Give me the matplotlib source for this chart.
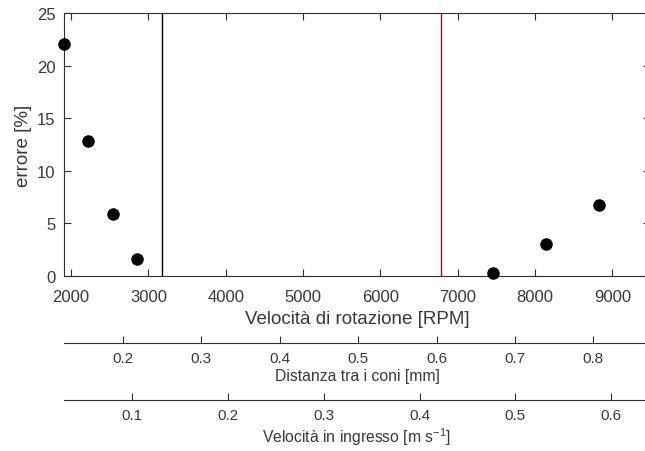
import matplotlib
matplotlib.use("Agg")
import matplotlib.pyplot as plt

# Measured error against rotation speed
rpm = [1910, 2224, 2543, 2854, 7460, 8144, 8827]
errore = [22.1, 12.8, 5.9, 1.6, 0.3, 3.0, 6.75]

# Vertical reference lines
rpm_line_black = 3177
rpm_line_red = 6783

# Axis ranges and ticks
rpm_lim = (1909.5, 9487)
rpm_ticks = [2000, 3000, 4000, 5000, 6000, 7000, 8000, 9000]
err_lim = (0, 25)
err_ticks = [0, 5, 10, 15, 20, 25]
dist_lim = (0.1247, 0.8724)
dist_ticks = [0.2, 0.3, 0.4, 0.5, 0.6, 0.7, 0.8]
vin_lim = (0.02866, 0.6407)
vin_ticks = [0.1, 0.2, 0.3, 0.4, 0.5, 0.6]

plt.rcParams['font.family'] = ['Liberation Sans', 'DejaVu Sans']
plt.rcParams['mathtext.fontset'] = 'custom'
plt.rcParams['mathtext.rm'] = 'Liberation Sans'
plt.rcParams['mathtext.it'] = 'Liberation Sans'
plt.rcParams['mathtext.default'] = 'regular'
TXT = '#383838'
AX = '#303030'

W, H = 645, 452
fig = plt.figure(figsize=(W / 100, H / 100), dpi=100)

left_px, right_px = 64, 650
ax = fig.add_axes([left_px / W, 1 - 277 / H, (right_px - left_px) / W, (277 - 14) / H])
ax.plot(rpm, errore, 'o', color='black', markersize=8, clip_on=False, zorder=5)
ax.axvline(rpm_line_black, color='black', lw=1.0)
ax.axvline(rpm_line_red, color='#8B1E1E', lw=1.0)
ax.set_xlim(*rpm_lim)
ax.set_ylim(*err_lim)
ax.set_xticks(rpm_ticks)
ax.set_yticks(err_ticks)
ax.tick_params(direction='in', length=5, width=0.8, colors=AX, labelcolor=TXT,
               labelsize=12, top=True, right=True)
ax.tick_params(axis='x', pad=9.5)
ax.tick_params(axis='y', pad=6)
for s in ax.spines.values():
    s.set_color(AX)
    s.set_linewidth(0.8)
ax.set_xlabel('Velocità di rotazione [RPM]', fontsize=13.5, color=TXT, labelpad=4)
ax.set_ylabel('errore [%]', fontsize=13.5, color=TXT, labelpad=3.5)


def extra_axis(y_px, lim, ticks, label):
    a = fig.add_axes([left_px / W, 1 - y_px / H, (right_px - left_px) / W, 1e-4])
    a.set_xlim(*lim)
    a.set_xticks(ticks)
    a.set_yticks([])
    a.patch.set_visible(False)
    for k in ('top', 'left', 'right'):
        a.spines[k].set_visible(False)
    a.spines['bottom'].set_color(AX)
    a.spines['bottom'].set_linewidth(0.8)
    a.tick_params(axis='x', direction='in', length=5, width=0.8, colors=AX,
                  labelcolor=TXT, labelsize=11, pad=5.5)
    a.set_xlabel(label, fontsize=11.3, color=TXT, labelpad=2.5)
    return a


extra_axis(344.3, dist_lim, dist_ticks, 'Distanza tra i coni [mm]')
extra_axis(401, vin_lim, vin_ticks, 'Velocità in ingresso [m s$^{-1}$]')

fig.savefig('out.png', dpi=100)
